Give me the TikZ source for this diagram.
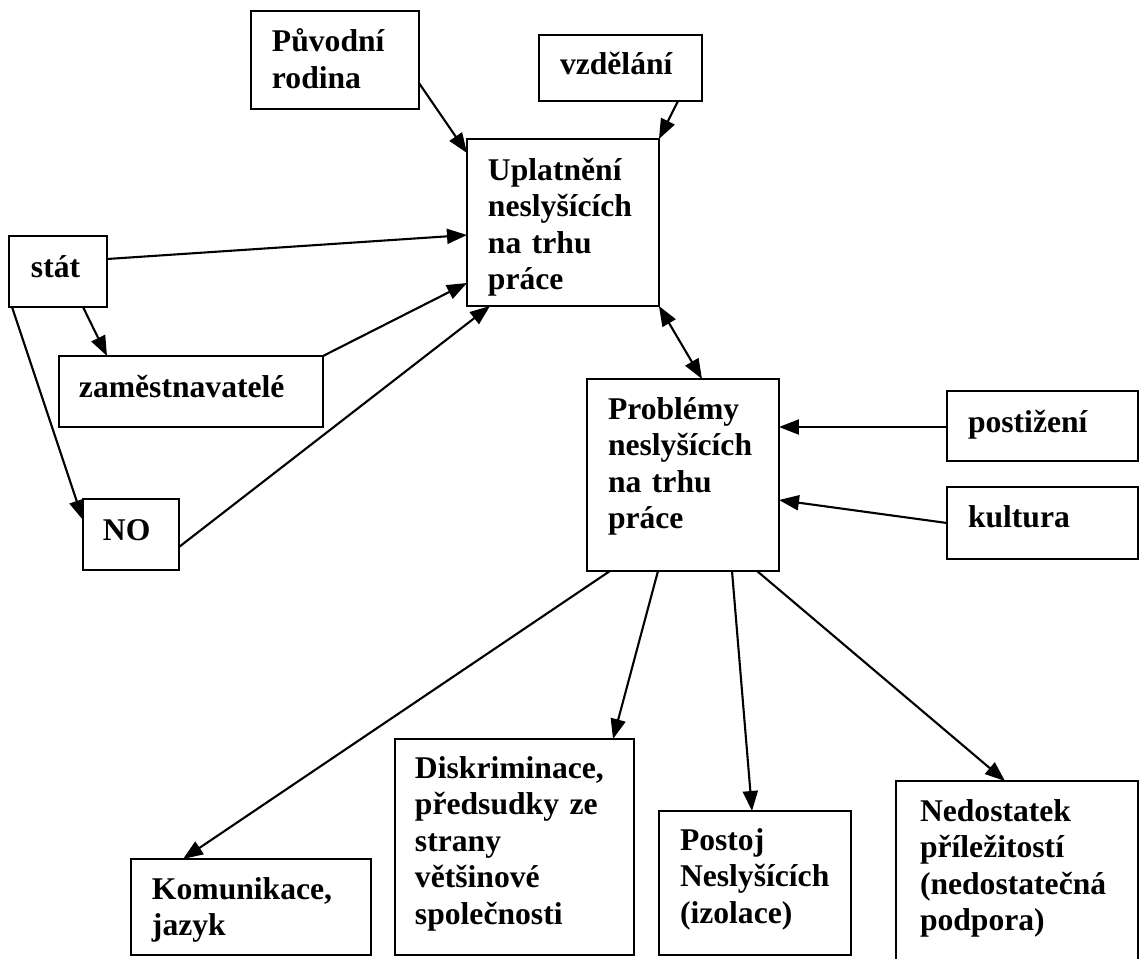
\documentclass[tikz,border=0pt]{standalone}
\usepackage{fontspec}
\setmainfont{Liberation Serif}
\usetikzlibrary{arrows.meta,calc}

\begin{document}
\begin{tikzpicture}[x=0.02cm, y=0.02cm,
        font=\bfseries\fontsize{18}{20.8}\selectfont,
        box/.style={draw, line width=1.5pt, align=left, anchor=north west,
            inner xsep=0.42cm, inner ysep=0pt, outer sep=0pt},
        arr/.style={line width=1.2pt, -{Triangle[length=0.4cm, width=0.3cm]}},
        darr/.style={line width=1.2pt,
            {Triangle[length=0.4cm, width=0.3cm]}-{Triangle[length=0.4cm, width=0.3cm]}}]
            \useasboundingbox (0,0) rectangle (1140,-958);
            \clip (0,0) rectangle (1140,-958);

            % upper part
            \node[box, text width=2.52cm, text height=0.82cm, text depth=1.14cm]
                (rodina) at (251,-11) {Původní\\rodina};
            \node[box, text width=2.42cm, text height=0.8cm, text depth=0.52cm]
                (vzdelani) at (539,-35) {vzdělání};
            \node[box, text width=3cm, text height=0.82cm, text depth=2.52cm]
                (uplat) at (467,-139) {Uplatnění\\neslyšících\\na trhu\\práce};
            \node[box, inner xsep=0.44cm, text width=1.08cm, text height=0.82cm, text depth=0.6cm]
                (stat) at (9,-236) {stát};
            \node[box, inner xsep=0.4cm, text width=4.48cm, text height=0.82cm, text depth=0.6cm]
                (zamest) at (59,-356) {zaměstnavatelé};
            \node[box, inner xsep=0.4cm, text width=1.12cm, text height=0.82cm, text depth=0.6cm]
                (no) at (83,-499) {NO};

            % middle part
            \node[box, text width=3cm, text height=0.8cm, text depth=3.04cm]
                (problemy) at (587,-379) {Problémy\\neslyšících\\na trhu\\práce};
            \node[box, text width=2.98cm, text height=0.82cm, text depth=0.58cm]
                (postizeni) at (947,-391) {postižení};
            \node[box, text width=2.98cm, text height=0.8cm, text depth=0.64cm]
                (kultura) at (947,-487) {kultura};

            % lower part
            \node[box, text width=3.96cm, text height=0.8cm, text depth=1.12cm]
                (komunikace) at (131,-859) {Komunikace,\\jazyk};
            \node[box, inner xsep=0.4cm, text width=3.98cm, text height=0.78cm, text depth=3.54cm]
                (diskrim) at (395,-739) {Diskriminace,\\předsudky ze\\strany\\většinové\\společnosti};
            \node[box, text width=3cm, text height=0.78cm, text depth=2.1cm]
                (postoj) at (659,-811) {Postoj\\Neslyšících\\(izolace)};
            \node[box, inner xsep=0.48cm, text width=3.88cm, text height=0.8cm, text depth=3.58cm]
                (nedostatek) at (896,-781) {Nedostatek\\příležitostí\\(nedostatečná\\podpora)};

            \draw[arr] ($(rodina.north east)+(0,-72)$) -- ($(uplat.north west)+(0,-14)$);
            \draw[arr] ($(vzdelani.south west)+(139,0)$) -- (uplat.north east);
            \draw[arr] ($(stat.north east)+(0,-23)$) -- ($(uplat.north west)+(0,-96)$);
            \draw[arr] ($(stat.south west)+(74,0)$) -- ($(zamest.north west)+(48,0)$);
            \draw[arr] ($(stat.south west)+(3,0)$) -- ($(no.north west)+(0,-21)$);
            \draw[arr] (zamest.north east) -- ($(uplat.north west)+(0,-144)$);
            \draw[arr] ($(no.north east)+(0,-48)$) -- ($(uplat.south west)+(23,0)$);

            \draw[darr] (uplat.south east) -- ($(problemy.north west)+(115,0)$);
            \draw[arr] ($(postizeni.north west)+(0,-36)$) -- ($(problemy.north east)+(0,-48)$);
            \draw[arr] ($(kultura.north west)+(0,-36)$) -- ($(problemy.north east)+(0,-121)$);

            \draw[arr] ($(problemy.south west)+(23,0)$) -- ($(komunikace.north west)+(52,0)$);
            \draw[arr] ($(problemy.south west)+(71,0)$) -- ($(diskrim.north west)+(218,0)$);
            \draw[arr] ($(problemy.south west)+(145,0)$) -- ($(postoj.north west)+(93,0)$);
            \draw[arr] ($(problemy.south west)+(170,0)$) -- ($(nedostatek.north west)+(109,0)$);
\end{tikzpicture}
\end{document}
